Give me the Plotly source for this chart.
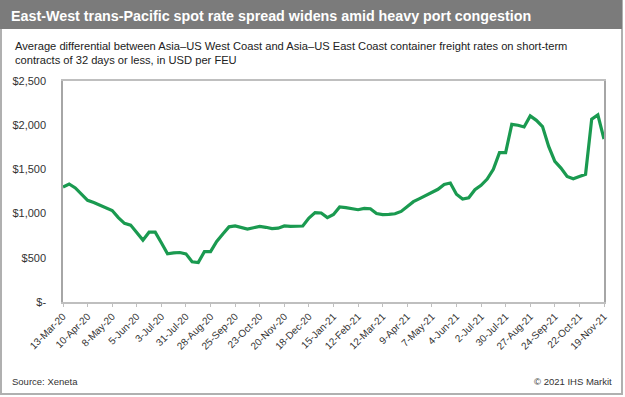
import plotly.graph_objects as go
import pandas as pd

# Weekly dates, 13-Mar-2020 .. 19-Nov-2021 (89 weeks)
dates = pd.date_range("2020-03-13", "2021-11-19", freq="7D")

spread_usd = [
    1300, 1335, 1290, 1215, 1150, 1125, 1095, 1070, 1035, 955,
    890, 870, 780, 700, 790, 790, 670, 545, 555, 560,
    545, 455, 446, 570, 570, 685, 770, 850, 860, 845,
    825, 840, 856, 845, 830, 835, 860, 855, 853, 860,
    950, 1012, 1007, 955, 990, 1075, 1068, 1055, 1044, 1058,
    1055, 1000, 988, 992, 998, 1025, 1075, 1135, 1170, 1205,
    1250, 1275, 1330, 1346, 1220, 1165, 1180, 1270, 1320, 1390,
    1500, 1690, 1690, 2010, 2000, 1980, 2105, 2055, 1985, 1760,
    1590, 1515, 1420, 1395, 1420, 1445, 2068, 2117, 1843,
]

tick_dates = pd.date_range("2020-03-13", "2021-11-19", freq="28D")
tick_labels = [
    "13-Mar-20", "10-Apr-20", "8-May-20", "5-Jun-20", "3-Jul-20", "31-Jul-20",
    "28-Aug-20", "25-Sep-20", "23-Oct-20", "20-Nov-20", "18-Dec-20", "15-Jan-21",
    "12-Feb-21", "12-Mar-21", "9-Apr-21", "7-May-21", "4-Jun-21", "2-Jul-21",
    "30-Jul-21", "27-Aug-21", "24-Sep-21", "22-Oct-21", "19-Nov-21",
]
y_ticks = [0, 500, 1000, 1500, 2000, 2500]
y_tick_labels = ["$-", "$500", "$1,000", "$1,500", "$2,000", "$2,500"]

title = "East-West trans-Pacific spot rate spread widens amid heavy port congestion"
subtitle = ("Average differential between Asia–US West Coast and Asia–US East Coast container freight rates on short-term"
            "<br>contracts of 32 days or less, in USD per FEU")
source = "Source: Xeneta"
credit = "© 2021 IHS Markit"

W, H = 625, 397
L, R, T, B = 63, 21, 81, 95
pw, ph = W - L - R, H - T - B

def px(x):
    return (x - L) / pw

def py(y):
    return (H - B - y) / ph

fig = go.Figure()
fig.add_trace(go.Scatter(
    x=dates, y=spread_usd, mode="lines",
    line=dict(color="#1a9a50", width=3.2),
    hoverinfo="x+y",
))

font_family = "Liberation Sans, Arial, sans-serif"

fig.update_layout(
    width=W, height=H,
    margin=dict(l=L, r=R, t=T, b=B),
    paper_bgcolor="white", plot_bgcolor="white",
    showlegend=False,
    font=dict(family=font_family, color="#333333", size=11),
    xaxis=dict(
        range=[dates[0], dates[-1]],
        tickmode="array", tickvals=list(tick_dates), ticktext=tick_labels,
        tickangle=-45, tickfont=dict(size=10, color="#333333"),
        showgrid=False, zeroline=False,
        showline=True, linecolor="#bfbfbf", linewidth=1.5,
        ticks="outside", ticklen=3, tickcolor="#bfbfbf",
        mirror=True,
    ),
    yaxis=dict(
        range=[0, 2500],
        tickmode="array", tickvals=y_ticks, ticktext=y_tick_labels,
        tickfont=dict(size=11, color="#333333"),
        showgrid=False, zeroline=False,
        showline=True, linecolor="#a6a6a6", linewidth=1.5,
        ticks="outside", ticklen=13, tickcolor="white",
        mirror=True,
    ),
)

shapes = [
    # outer frame
    dict(type="rect", xref="paper", yref="paper",
         x0=px(1), x1=px(622), y0=py(394), y1=py(0),
         line=dict(color="#b0b0b0", width=2), fillcolor="rgba(0,0,0,0)", layer="below"),
    # title bar
    dict(type="rect", xref="paper", yref="paper",
         x0=px(0), x1=px(622), y0=py(29), y1=py(0),
         line=dict(width=0), fillcolor="#7b7b7b", layer="below"),
]
fig.update_layout(shapes=shapes)

annotations = [
    dict(text=f"<b>{title}</b>", xref="paper", yref="paper", x=px(9), y=py(16),
         xanchor="left", yanchor="middle", showarrow=False,
         font=dict(size=14.3, color="white", family=font_family)),
    dict(text=subtitle, xref="paper", yref="paper", x=px(13), y=py(38),
         xanchor="left", yanchor="top", showarrow=False, align="left",
         font=dict(size=11.15, color="#222222", family=font_family)),
    dict(text=source, xref="paper", yref="paper", x=px(10), y=py(381),
         xanchor="left", yanchor="middle", showarrow=False,
         font=dict(size=9.5, color="#333333", family=font_family)),
    dict(text=credit, xref="paper", yref="paper", x=px(614), y=py(381),
         xanchor="right", yanchor="middle", showarrow=False,
         font=dict(size=9.5, color="#333333", family=font_family)),
]
fig.update_layout(annotations=annotations)

fig.write_html(
    "out.html",
    config={"displayModeBar": False},
    post_script="document.body.style.margin='0';document.body.style.overflow='hidden';",
)
